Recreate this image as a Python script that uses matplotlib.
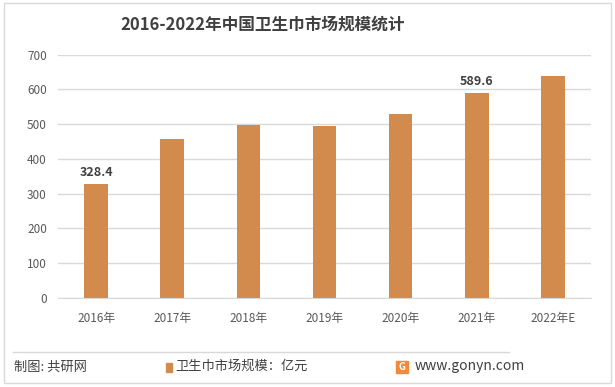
import matplotlib.pyplot as plt
from matplotlib.patches import Rectangle
from matplotlib.lines import Line2D
import numpy as np

plt.rcParams['font.family'] = ['Noto Sans CJK SC', 'DejaVu Sans']

years = ['2016年', '2017年', '2018年', '2019年', '2020年', '2021年', '2022年E']
market = [328.4, 458.0, 498.0, 496.0, 530.0, 589.6, 640.0]
labelled = {0: '328.4', 5: '589.6'}

bar_color = '#D38B4D'
text_color = '#595959'

fig = plt.figure(figsize=(6.15, 3.87), dpi=100)
ax = fig.add_axes([58 / 615, 1 - 297.7 / 387, 533 / 615, 243 / 387])

x = np.arange(len(years))
ax.bar(x, market, width=0.31, color=bar_color, zorder=3)
for i, t in labelled.items():
    ax.text(x[i], market[i] + 14, t, ha='center', va='bottom', fontsize=9,
            fontweight='bold', color='#404040')

ax.set_ylim(0, 700)
ax.set_xlim(-0.5, len(years) - 0.5)
ax.set_yticks(range(0, 701, 100))
ax.yaxis.grid(True, color='#D9D9D9', linewidth=1, zorder=0)
ax.set_xticks(x)
ax.set_xticklabels(years)
ax.tick_params(axis='both', length=0, labelsize=8.5, colors=text_color, pad=10)
ax.tick_params(axis='y', pad=8)
for s in ['top', 'right', 'left']:
    ax.spines[s].set_visible(False)
ax.spines['bottom'].set_color('#D9D9D9')

fig.text(263 / 615, 1 - 25 / 387, '2016-2022年中国卫生巾市场规模统计', ha='center', va='center',
         fontsize=12, fontweight='bold', color='#404040')

# border and footer
fig.patches.append(Rectangle((4 / 615, 4 / 387), 607 / 615, 380 / 387, transform=fig.transFigure,
                             fill=False, edgecolor='#D9D9D9', linewidth=1))
fig.lines.append(Line2D([13 / 615, 509 / 615], [1 - 352 / 387] * 2, transform=fig.transFigure,
                        color='#D9D9D9', linewidth=1))
fig.text(14 / 615, 1 - 367 / 387, '制图: 共研网', ha='left', va='center', fontsize=9.5, color='#404040')
fig.patches.append(Rectangle((166 / 615, 1 - 372 / 387), 6 / 615, 9 / 387, transform=fig.transFigure,
                             color=bar_color))
fig.text(175 / 615, 1 - 366 / 387, '卫生巾市场规模：亿元', ha='left', va='center', fontsize=9.5, color='#404040')
fig.patches.append(Rectangle((396 / 615, 1 - 373 / 387), 12 / 615, 12 / 387, transform=fig.transFigure,
                             color='#F08A3C'))
fig.text(402 / 615, 1 - 367 / 387, 'G', ha='center', va='center', fontsize=7, fontweight='bold', color='white')
fig.text(415 / 615, 1 - 366 / 387, 'www.gonyn.com', ha='left', va='center', fontsize=10, color='#404040')

fig.savefig('out.png', dpi=100)
